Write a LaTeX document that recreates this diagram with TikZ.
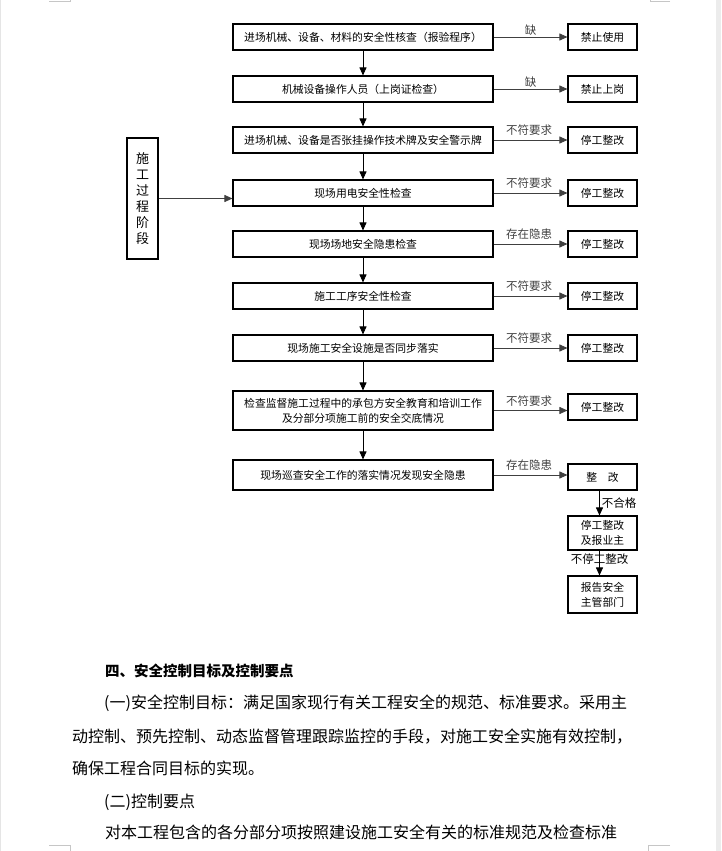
\documentclass[tikz,border=0pt]{standalone}
\usepackage{fontspec}
\newfontfamily\cjk{Noto Sans CJK SC}
\usetikzlibrary{arrows.meta,positioning}
\XeTeXlinebreaklocale "zh"
\XeTeXlinebreakskip=0pt plus 3pt

\tikzset{
  chkbox/.style={draw, line width=1.1pt, minimum width=260pt, minimum height=26pt, inner sep=1pt, align=center, font=\cjk\fontsize{10.8}{15}\selectfont},
  resbox/.style={draw, line width=1.1pt, minimum width=69pt, minimum height=26pt, inner sep=1pt, align=center, font=\cjk\fontsize{10.8}{15}\selectfont},
  stagebox/.style={draw, line width=1.1pt, minimum width=31pt, minimum height=121pt, inner sep=1pt, align=center, font=\cjk\fontsize{13}{16}\selectfont},
  flow/.style={-{Triangle[length=8pt,width=7pt]}, line width=0.9pt},
  side/.style={-{Triangle[length=8pt,width=7pt]}, line width=0.9pt, black!75},
  lbl/.style={font=\cjk\fontsize{11.5}{13}\selectfont, inner sep=1pt},
  para/.style={anchor=west, inner sep=0pt, font=\cjk\fontsize{16}{20}\selectfont},
  cropmark/.style={gray!45, line width=1pt},
}

\begin{document}
\begin{tikzpicture}[x=1pt, y=-1pt]
  \useasboundingbox (0,0) rectangle (721,851);
  % page edge and corner marks
  \fill[gray!15] (716,0) rectangle (721,851);
  \draw[gray!20] (0.5,0) -- (0.5,851);
  \draw[cropmark] (49,2) -- (70,2) -- (70,0);
  \draw[cropmark] (670,2) -- (650,2) -- (650,0);
  \draw[cropmark] (49,845) -- (70,845) -- (70,851);
  \draw[cropmark] (670,845) -- (648,845) -- (648,851);

  % === 检查流程 ===
  \node[chkbox] (chk1) at (363,37) {进场机械、设备、材料的安全性核查（报验程序）};
  \node[chkbox] (chk2) at (363,89) {机械设备操作人员（上岗证检查）};
  \node[chkbox] (chk3) at (363,140) {进场机械、设备是否张挂操作技术牌及安全警示牌};
  \node[chkbox] (chk4) at (363,193) {现场用电安全性检查};
  \node[chkbox] (chk5) at (363,244) {现场场地安全隐患检查};
  \node[chkbox] (chk6) at (363,296) {施工工序安全性检查};
  \node[chkbox] (chk7) at (363,348) {现场施工安全设施是否同步落实};
  \node[chkbox, minimum height=39pt] (chk8) at (363,410.5) {检查监督施工过程中的承包方安全教育和培训工作\\及分部分项施工前的安全交底情况};
  \node[chkbox, minimum height=30pt] (chk9) at (363,475) {现场巡查安全工作的落实情况发现安全隐患};

  % 处理结果
  \node[resbox] (res1) at (602.5,37) {禁止使用};
  \node[resbox] (res2) at (602.5,89) {禁止上岗};
  \node[resbox] (res3) at (602.5,140) {停工整改};
  \node[resbox] (res4) at (602.5,193) {停工整改};
  \node[resbox] (res5) at (602.5,244) {停工整改};
  \node[resbox] (res6) at (602.5,296) {停工整改};
  \node[resbox] (res7) at (602.5,348) {停工整改};
  \node[resbox] (res8) at (602.5,407) {停工整改};
  \node[resbox] (res9) at (602.5,477) {整\quad 改};
  \node[resbox, minimum height=34pt] (res10) at (602.5,533) {停工整改\\及报业主};
  \node[resbox, minimum height=37pt] (res11) at (602.5,594.5) {报告安全\\主管部门};

  % 阶段
  \node[stagebox] (stage) at (142.5,198.5) {施\\工\\过\\程\\阶\\段};
  \draw[side] (stage.east) -- (stage.east -| chk4.west);

  \foreach \i [count=\j from 2] in {1,...,8}
    \draw[flow] (chk\i.south) -- (chk\j.north);

  \foreach \i in {1,2}
    \draw[side] (chk\i.east) -- (chk\i.east -| res\i.west) node[lbl, midway, above=0.5pt] {缺};
  \foreach \i/\t in {3/不符要求,4/不符要求,5/存在隐患,6/不符要求,7/不符要求,8/不符要求,9/存在隐患}
    \draw[side] (chk\i.east) -- (chk\i.east -| res\i.west) node[lbl, midway, above=3pt] {\makebox[49pt][s]{\t}};

  \draw[flow] ([xshift=-3pt]res9.south) -- ([xshift=-3pt]res10.north) node[lbl, midway, right=1pt] {不合格};
  \draw[flow] ([xshift=-3pt]res10.south) -- ([xshift=-3pt]res11.north) node[lbl, pos=0.35] {不停工整改};

  % === 正文 ===
  \node[para, font=\cjk\bfseries\fontsize{14.5}{18}\selectfont] (head) at (105,671) {四、安全控制目标及控制要点};
  \node[para] (p1) at (104,703) {\makebox[543pt][s]{(一)安全控制目标：满足国家现行有关工程安全的规范、标准要求。采用主}};
  \node[para] (p2) at (72,737) {\makebox[575pt][s]{动控制、预先控制、动态监督管理跟踪监控的手段，对施工安全实施有效控制，}};
  \node[para] (p3) at (72,768) {确保工程合同目标的实现。};
  \node[para] (p4) at (104,802) {(二)控制要点};
  \node[para] (p5) at (105,832) {\makebox[541pt][s]{对本工程包含的各分部分项按照建设施工安全有关的标准规范及检查标准}};
\end{tikzpicture}
\end{document}
